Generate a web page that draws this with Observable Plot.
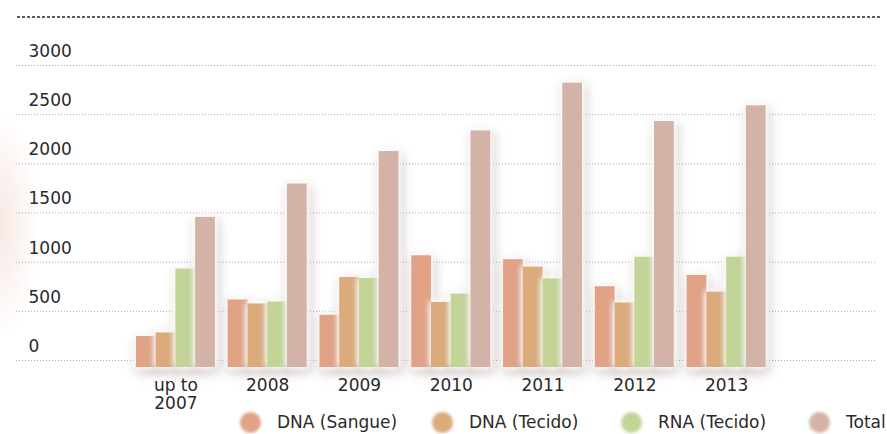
<!DOCTYPE html>
<html>
<head>
<meta charset="utf-8">
<script src="https://cdn.jsdelivr.net/npm/d3@7"></script>
<script src="https://cdn.jsdelivr.net/npm/@observablehq/plot@0.6"></script>
<style>
  html, body { margin: 0; padding: 0; background: #fff; }
  #wrap { position: relative; width: 887px; height: 434px; overflow: hidden; background: #fff; font-family: "DejaVu Sans", sans-serif; }
  #vignette { position: absolute; left: -40px; top: 110px; width: 80px; height: 230px;
    background: radial-gradient(ellipse at center, rgba(236,196,186,0.4), rgba(255,255,255,0) 70%); }
  #topline { position: absolute; left: 16px; top: 15px; width: 866px; height: 4px;
    background-image: radial-gradient(circle, #5a5a5a 1.1px, rgba(0,0,0,0) 1.5px);
    background-size: 5px 4px; background-repeat: repeat-x; }
  #chart { position: absolute; left: 0; top: 0; }
  #chart g[aria-label="bar"] { filter: drop-shadow(0 0 3px #fff) drop-shadow(0 0 3px #fff) drop-shadow(2px 4px 4px rgba(110,80,70,0.3)); }
  .lg { position: absolute; top: 411px; height: 22px; display: flex; align-items: center; font-size: 17px; color: #2a2a2a; white-space: nowrap; }
  .lg .sw { width: 21px; height: 21px; border-radius: 50%; filter: blur(1.6px); margin-right: 16px; flex: none; }
</style>
</head>
<body>
<div id="wrap">
  <div id="vignette"></div>
  <div id="topline"></div>
  <div id="chart"></div>
  <div id="legend"></div>
</div>
<script>
// ---- data ----
const categories = ["up to 2007", "2008", "2009", "2010", "2011", "2012", "2013"];
const tickLabels = ["up to\n2007", "2008", "2009", "2010", "2011", "2012", "2013"];
const yTicks = [0, 500, 1000, 1500, 2000, 2500, 3000];
const seriesNames = ["DNA (Sangue)", "DNA (Tecido)", "RNA (Tecido)", "Total"];
const dnaSangue = [245, 615, 460, 1065, 1025, 750, 865];
const dnaTecido = [280, 575, 845, 590, 950, 585, 695];
const rnaTecido = [930, 595, 835, 675, 830, 1050, 1050];
const total     = [1455, 1795, 2125, 2335, 2820, 2430, 2590];
const seriesColors = ["#e1a286", "#dbab7b", "#c2d597", "#d3b2a7"];

const seriesValues = [dnaSangue, dnaTecido, rnaTecido, total];

// band layout of each year group
const xRange = [129.5, 772];
const padInner = 0.14, padOuter = 0.07;
const step = (xRange[1] - xRange[0]) / (categories.length - padInner + 2 * padOuter);
const bandW = step * (1 - padInner);
const barW = bandW / seriesNames.length;

const barMarks = seriesValues.map((vals, i) =>
  Plot.barY(categories.map((c, j) => ({cat: c, value: vals[j]})), {
    x: "cat", y: "value", fill: seriesColors[i],
    insetLeft: i * barW, insetRight: (seriesNames.length - 1 - i) * barW,
    insetBottom: -7
  })
);

const chart = Plot.plot({
  width: 887, height: 412,
  marginLeft: 16, marginRight: 10, marginTop: 65, marginBottom: 52,
  x: {domain: categories, range: xRange, paddingInner: padInner, paddingOuter: padOuter, round: false, axis: null},
  y: {domain: [0, 3000], axis: null},
  style: {fontFamily: "DejaVu Sans, sans-serif", fontSize: "17px", color: "#2a2a2a", background: "transparent", overflow: "visible"},
  marks: [
    Plot.ruleY(yTicks, {stroke: "#aaaaaa", strokeWidth: 1, strokeDasharray: "1,2"}),
    ...barMarks,
    Plot.text(yTicks, {y: d => d, text: d => String(d), frameAnchor: "left", textAnchor: "start", dx: 12, dy: -14, fill: "#2a2a2a", fontSize: 17}),
    Plot.text(categories, {x: d => d, text: (d, i) => tickLabels[i], frameAnchor: "bottom", lineAnchor: "top", dy: 17, lineHeight: 1.08, fill: "#2a2a2a", fontSize: 17})
  ]
});
document.getElementById("chart").appendChild(chart);

// ---- legend ----
const legendLefts = [240, 432, 621, 809];
const legend = document.getElementById("legend");
seriesNames.forEach((name, i) => {
  const item = document.createElement("div");
  item.className = "lg";
  item.style.left = legendLefts[i] + "px";
  const sw = document.createElement("span");
  sw.className = "sw";
  sw.style.background = seriesColors[i];
  const tx = document.createElement("span");
  tx.textContent = name;
  item.appendChild(sw);
  item.appendChild(tx);
  legend.appendChild(item);
});
</script>
</body>
</html>
